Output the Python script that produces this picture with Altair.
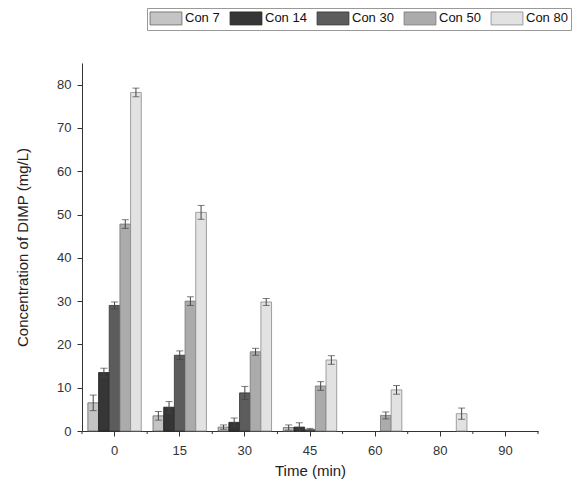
import altair as alt
import pandas as pd

times = ["0", "15", "30", "45", "60", "80", "90"]
series = ["Con 7", "Con 14", "Con 30", "Con 50", "Con 80"]

con7 = [6.5, 3.5, 0.9, 0.8, None, None, None]
con14 = [13.5, 5.5, 2.0, 0.9, None, None, None]
con30 = [29.0, 17.5, 8.8, 0.3, None, None, None]
con50 = [47.8, 30.0, 18.3, 10.4, 3.6, None, None]
con80 = [78.2, 50.5, 29.8, 16.4, 9.5, 4.0, None]

err7 = [1.8, 1.0, 0.5, 0.6, None, None, None]
err14 = [1.0, 1.3, 1.0, 1.0, None, None, None]
err30 = [0.8, 1.0, 1.5, 0.3, None, None, None]
err50 = [1.0, 1.0, 0.8, 1.0, 0.8, None, None]
err80 = [1.0, 1.6, 0.8, 1.0, 1.0, 1.3, None]

fills = ["#c4c4c4", "#363636", "#5c5c5c", "#ababab", "#e2e2e2"]
strokes = ["#666666", "#222222", "#333333", "#777777", "#8a8a8a"]

rows = []
for s, vals, errs in zip(series, [con7, con14, con30, con50, con80],
                         [err7, err14, err30, err50, err80]):
    for t, v, e in zip(times, vals, errs):
        if v is None:
            continue
        rows.append({"time": t, "series": s, "value": v,
                     "lo": max(v - e, 0), "hi": v + e})
df = pd.DataFrame(rows)
edges = pd.DataFrame({"time": times})

FONT = "Liberation Sans"

xenc = alt.X("time:N", sort=times, title="Time (min)",
             scale=alt.Scale(domain=times, paddingInner=0, paddingOuter=0),
             axis=alt.Axis(labelAngle=0, orient="bottom", tickSize=5,
                           labelFontSize=13, titleFontSize=15,
                           titleFontWeight="normal",
                           labelColor="#333", titleColor="#222",
                           labelPadding=8, titlePadding=6,
                           domainColor="#333", tickColor="#333",
                           labelFont=FONT, titleFont=FONT))
xoff = alt.XOffset("series:N", sort=series,
                   scale=alt.Scale(domain=series, paddingInner=0, paddingOuter=0.55))
yscale = alt.Scale(domain=[0, 85], nice=False)

bars = alt.Chart(df).mark_bar(strokeWidth=0.8).encode(
    x=xenc,
    xOffset=xoff,
    y=alt.Y("value:Q", scale=yscale, title="Concentration of DIMP (mg/L)",
            axis=alt.Axis(values=list(range(0, 86, 5)), grid=False,
                          tickSize={"condition": {"test": "datum.value % 10 === 0",
                                                  "value": 5}, "value": 3},
                          labelExpr="datum.value % 10 === 0 ? datum.label : ''",
                          labelFontSize=13, titleFontSize=15,
                          titleFontWeight="normal", labelPadding=6,
                          labelColor="#333", titleColor="#222",
                          domainColor="#333", tickColor="#333",
                          titlePadding=26, labelFont=FONT, titleFont=FONT)),
    fill=alt.Fill("series:N", sort=series,
                  scale=alt.Scale(domain=series, range=fills),
                  legend=alt.Legend(title=None, orient="none", direction="horizontal",
                                    legendX=65, legendY=-55,
                                    symbolType="M-2.45,-1H2.45V1H-2.45Z",
                                    symbolSize=169, symbolStrokeWidth=0.8,
                                    symbolOffset=9, labelOffset=12,
                                    labelFontSize=13, labelFont=FONT,
                                    labelColor="#111", columnPadding=8,
                                    strokeColor="#999", padding=3,
                                    fillColor="white")),
    stroke=alt.Stroke("series:N", sort=series,
                      scale=alt.Scale(domain=series, range=strokes), legend=None),
)

rules = alt.Chart(df).mark_rule(color="#444", strokeWidth=1).encode(
    x=alt.X("time:N", sort=times), xOffset=xoff,
    y=alt.Y("lo:Q", scale=yscale), y2="hi:Q")
cap_hi = alt.Chart(df).mark_tick(color="#444", thickness=1, size=7).encode(
    x=alt.X("time:N", sort=times), xOffset=xoff, y=alt.Y("hi:Q", scale=yscale))
cap_lo = alt.Chart(df).mark_tick(color="#444", thickness=1, size=7).encode(
    x=alt.X("time:N", sort=times), xOffset=xoff, y=alt.Y("lo:Q", scale=yscale))

minor_left = alt.Chart(edges).mark_rule(color="#333", strokeWidth=1).encode(
    x=alt.X("time:N", sort=times, bandPosition=0),
    y=alt.value(368), y2=alt.value(371))
minor_right = alt.Chart(edges.tail(1)).mark_rule(color="#333", strokeWidth=1).encode(
    x=alt.X("time:N", sort=times, bandPosition=1),
    y=alt.value(368), y2=alt.value(371))

chart = alt.layer(bars, rules, cap_hi, cap_lo, minor_left, minor_right).properties(
    width=456, height=368,
    padding={"left": 82, "top": 63, "right": 39, "bottom": 55},
    autosize="none",
).configure_view(stroke=None).configure_axis(grid=False)

chart.save("out.html", embed_options={"renderer": "svg", "actions": False})
